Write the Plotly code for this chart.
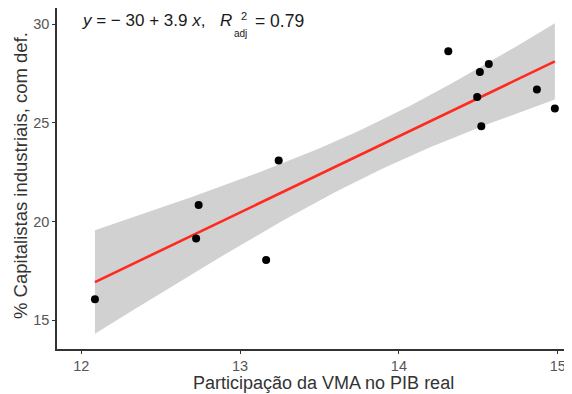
import numpy as np
import plotly.graph_objects as go

# Data
vma_share = [12.086, 12.739, 12.723, 13.164, 13.243, 14.311, 14.510, 14.566, 14.493, 14.869, 14.982, 14.519]
cap_ind = [16.06, 20.84, 19.14, 18.04, 23.09, 28.63, 27.58, 27.99, 26.32, 26.69, 25.73, 24.83]

x_ticks = [12, 13, 14, 15]
y_ticks = [15, 20, 25, 30]

x_title = "Participação da VMA no PIB real"
y_title = "% Capitalistas industriais, com def."

# Linear fit with 95% confidence band (like geom_smooth(method="lm"))
x = np.array(vma_share)
y = np.array(cap_ind)
n = len(x)
b1, b0 = np.polyfit(x, y, 1)
resid = y - (b0 + b1 * x)
s = np.sqrt(np.sum(resid ** 2) / (n - 2))
t_crit = 2.228  # t(0.975, df=10)
xg = np.linspace(x.min(), x.max(), 80)
yg = b0 + b1 * xg
se = s * np.sqrt(1 / n + (xg - x.mean()) ** 2 / np.sum((x - x.mean()) ** 2))
lo = yg - t_crit * se
hi = yg + t_crit * se

fig = go.Figure()
fig.add_trace(go.Scatter(
    x=np.concatenate([xg, xg[::-1]]), y=np.concatenate([hi, lo[::-1]]),
    fill="toself", fillcolor="rgba(153,153,153,0.45)", line=dict(width=0),
    mode="lines", hoverinfo="skip", showlegend=False))
fig.add_trace(go.Scatter(x=xg, y=yg, mode="lines",
                         line=dict(color="#ff2a1f", width=2.6), showlegend=False))
fig.add_trace(go.Scatter(x=vma_share, y=cap_ind, mode="markers",
                         marker=dict(color="black", size=8), showlegend=False))

OFF = 8  # page body margin
W, H = 572 - OFF, 394 - OFF
L, R, T, B = 57 - OFF, 0, 0, 45
pw, ph = W - L - R, H - T - B

def px(xp):
    return (xp - OFF - L) / pw

def py(yp):
    return (H - B - (yp - OFF)) / ph

font = "Liberation Sans, Arial, sans-serif"
ink = "#1a1a1a"

def note(xp, yp, text, size, anchor="left", color=ink, angle=0):
    fig.add_annotation(xref="paper", yref="paper", x=px(xp), y=py(yp), xanchor=anchor,
                       yanchor="middle", text=text, showarrow=False, textangle=angle,
                       font=dict(size=size, color=color, family=font))

note(80, 21, "<i>y</i> = − 30 + 3.9 <i>x</i>,", 17)
note(218, 21, "<i>R</i>", 17)
note(239, 16, "2", 11)
note(232, 33, "adj", 10)
note(253, 21, "= 0.79", 17.5)

# axis titles
note(323, 383.5, x_title, 18, anchor="center", color="#333333")
note(20, 176, y_title, 18.5, anchor="center", color="#333333", angle=-90)

tick_font = dict(size=14.5, color="#555555", family=font)
fig.update_layout(
    width=W, height=H, margin=dict(l=L, r=R, t=T, b=B),
    plot_bgcolor="white", paper_bgcolor="white",
    font=dict(family=font),
    xaxis=dict(range=[11.847, 15.09], tickvals=x_ticks, showgrid=False, zeroline=False,
               showline=True, linecolor="#333333", linewidth=1.5, ticks="outside", ticklen=3,
               tickcolor="#333333", tickfont=tick_font, automargin=False),
    yaxis=dict(range=[13.53, 30.83], tickvals=y_ticks, showgrid=False, zeroline=False,
               showline=True, linecolor="#333333", linewidth=1.5, ticks="outside", ticklen=3,
               tickcolor="#333333", tickfont=tick_font, automargin=False),
)

fig.write_html("out.html")
